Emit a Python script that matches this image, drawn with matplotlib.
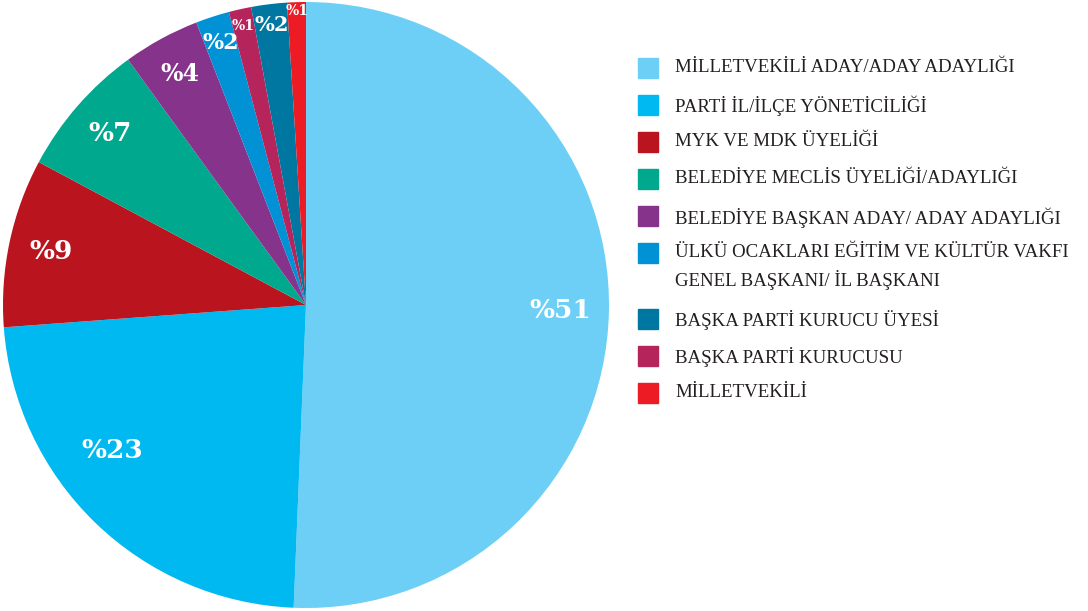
import numpy as np
import matplotlib
matplotlib.use("Agg")
import matplotlib.pyplot as plt
from matplotlib.patches import Rectangle

# legend order
categories = [
    "MİLLETVEKİLİ ADAY/ADAY ADAYLIĞI",
    "PARTİ İL/İLÇE YÖNETİCİLİĞİ",
    "MYK VE MDK ÜYELİĞİ",
    "BELEDİYE MECLİS ÜYELİĞİ/ADAYLIĞI",
    "BELEDİYE BAŞKAN ADAY/ ADAY ADAYLIĞI",
    "ÜLKÜ OCAKLARI EĞİTİM VE KÜLTÜR VAKFI\nGENEL BAŞKANI/ İL BAŞKANI",
    "BAŞKA PARTİ KURUCU ÜYESİ",
    "BAŞKA PARTİ KURUCUSU",
    "MİLLETVEKİLİ",
]
values = [50.7, 23.2, 9.0, 7.2, 4.1, 1.8, 1.9, 1.2, 1.0]
labels = ["%51", "%23", "%9", "%7", "%4", "%2", "%2", "%1", "%1"]
colors = ["#6DCFF6", "#00B9F1", "#BA141E", "#00A88E", "#85338B",
          "#0092D4", "#0077A0", "#B5245A", "#ED1C24"]
# order of slices around the pie (clockwise from top)
pie_order = [0, 1, 2, 3, 4, 5, 7, 6, 8]

label_dist = [0.84, 0.80, 0.86, 0.86, 0.87, 0.91, 0.93, 0.945, 0.97]
label_shift = [0, -9, 0, 0, 0, 0, 0, 0, 0]
label_size = [19, 19, 19, 19, 17, 16, 15, 10, 10]

W, H = 1088, 611
fig = plt.figure(figsize=(W / 100, H / 100), dpi=100)
cx, cy, R = 306, 305, 303
ax = fig.add_axes([(cx - R) / W, (H - cy - R) / H, 2 * R / W, 2 * R / H])
wedges, _ = ax.pie([values[i] for i in pie_order],
                   colors=[colors[i] for i in pie_order],
                   startangle=90, counterclock=False,
                   radius=1.0, wedgeprops=dict(linewidth=0))
ax.set_xlim(-1, 1)
ax.set_ylim(-1, 1)
ax.set_aspect("equal")
ax.axis("off")

for w, i in zip(wedges, pie_order):
    ang = np.deg2rad((w.theta1 + w.theta2) / 2 + label_shift[i])
    d = label_dist[i]
    ax.text(d * np.cos(ang), d * np.sin(ang), labels[i], color="white",
            fontsize=label_size[i], fontweight="bold", family="DejaVu Serif",
            ha="center", va="center")

# legend
y = 68
for cat, col in zip(categories, colors):
    nlines = cat.count("\n") + 1
    fig.patches.append(Rectangle((638 / W, 1 - (y + 10) / H), 20 / W, 20 / H,
                                 transform=fig.transFigure, color=col))
    fig.text(675 / W, 1 - (y - 9) / H, cat, family="Liberation Serif",
             fontsize=13.6, color="#231F20", va="top", ha="left",
             linespacing=1.55)
    y += 37 + (nlines - 1) * 29

fig.savefig("out.png", dpi=100)
